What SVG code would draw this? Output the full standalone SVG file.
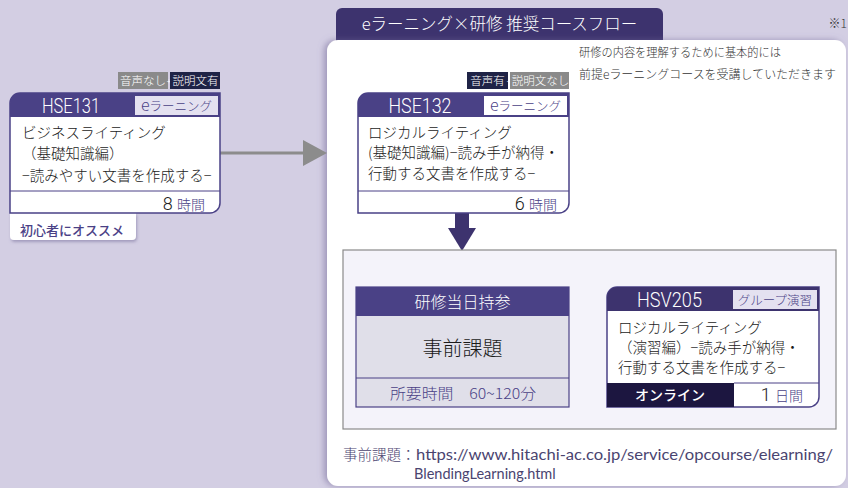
<svg xmlns="http://www.w3.org/2000/svg" width="848" height="488" viewBox="0 0 848 488">
<defs>
<style>
.jp{font-family:"Noto Sans CJK JP","Noto Sans",sans-serif;font-weight:300}
.body{font-size:14.5px;fill:#1a1a1a}
.hdr{font-size:20px;fill:#ffffff;font-family:Roboto,"Noto Sans",sans-serif;font-weight:300}
.tag{font-size:12.5px;fill:#4a4186}
.badge{font-size:11.5px;fill:#ffffff}
.plus{font-size:8px;fill:#ffffff}
.card{fill:#ffffff;stroke:#4a4186;stroke-width:1.5}
.sep{stroke:#4a4186;stroke-width:1}
.pur{fill:#4a4186}
.num{font-family:Roboto,sans-serif;font-weight:300;font-size:18px;fill:#1a1a1a}
.url{font-family:Lato,"Noto Sans",sans-serif;font-weight:400}
.gray-line{stroke:#8c8c8c;stroke-width:3}
.gray-head{fill:#8c8c8c}
</style>
<filter id="sh" x="-10%" y="-10%" width="120%" height="120%">
<feDropShadow dx="-3" dy="0" stdDeviation="3" flood-color="#6f6796" flood-opacity="0.55"/>
</filter>
<filter id="sh2" x="-10%" y="-20%" width="120%" height="150%">
<feDropShadow dx="1" dy="2" stdDeviation="1.5" flood-color="#6f6796" flood-opacity="0.5"/>
</filter>
</defs>
<rect width="848" height="488" fill="#d3cee3"/>

<!-- title tab and panel -->
<g id="title">
<rect x="336" y="8" width="327" height="40" rx="6" fill="#3d336e"/>
<text x="499.5" y="29.5" text-anchor="middle" class="jp" font-size="16.5" fill="#ffffff">eラーニング×研修 推奨コースフロー</text>
</g>
<text x="847" y="28" text-anchor="end" class="jp" font-size="12" fill="#333333">※1</text>
<g id="panel">
<rect x="327" y="40" width="519" height="446" rx="11" fill="#ffffff" filter="url(#sh)"/>
</g>
<g id="note" class="jp" font-size="12" fill="#333333">
<text x="579" y="57" textLength="202" lengthAdjust="spacingAndGlyphs">研修の内容を理解するために基本的には</text>
<text x="579" y="79" textLength="257" lengthAdjust="spacingAndGlyphs">前提eラーニングコースを受講していただきます</text>
</g>

<!-- connectors -->
<g id="connectors">
<line x1="220" y1="153" x2="305" y2="153" class="gray-line"/>
<polygon points="303,140 327,153 303,166" class="gray-head"/>
<rect x="455" y="213" width="14" height="17" fill="#3d336e"/>
<polygon points="448,228 476,228 462,251" fill="#3d336e"/>
<line x1="569" y1="348" x2="586" y2="348" class="gray-line"/>
<polygon points="583,335 607,348 583,361" class="gray-head"/>
</g>

<!-- HSE131 -->
<g id="hse131" class="jp">
<rect x="118" y="72" width="50" height="17" fill="#8a8a8a"/>
<text x="143" y="85" text-anchor="middle" class="badge">音声なし</text>
<text x="169" y="84" text-anchor="middle" class="plus">+</text>
<rect x="170" y="72" width="50" height="17" fill="#1f2346"/>
<text x="195.5" y="85" text-anchor="middle" class="badge">説明文有</text>
<g filter="url(#sh2)">
<path d="M10,213 H136 V236 A4,4 0 0 1 132,240 H14 A4,4 0 0 1 10,236 Z" fill="#ffffff"/>
</g>
<text x="20" y="235" font-size="13" font-weight="500" class="pur">初心者にオススメ</text>
<path d="M10,213 V103 A10,10 0 0 1 20,93 H220 V203 A10,10 0 0 1 210,213 Z" class="card"/>
<path d="M10,117 V103 A10,10 0 0 1 20,93 H220 V117 Z" class="pur"/>
<text x="71" y="113" text-anchor="middle" class="hdr" textLength="58" lengthAdjust="spacingAndGlyphs">HSE131</text>
<rect x="135" y="96" width="83" height="19" fill="#e4e1f0"/>
<text x="176.5" y="111" text-anchor="middle" class="tag"><tspan font-size="16">e</tspan>ラーニング</text>
<text x="22" y="137.5" class="body">ビジネスライティング</text>
<text x="22" y="159" class="body">（基礎知識編）</text>
<text x="22" y="180.5" class="body">−読みやすい文書を作成する−</text>
<line x1="10" y1="191" x2="220" y2="191" class="sep"/>
<text x="205" y="210" text-anchor="end"><tspan class="num">8 </tspan><tspan font-size="14" class="pur">時間</tspan></text>
</g>

<!-- HSE132 -->
<g id="hse132" class="jp">
<rect x="467" y="72" width="41" height="17" fill="#1f2346"/>
<text x="487.5" y="85" text-anchor="middle" class="badge">音声有</text>
<text x="509" y="84" text-anchor="middle" class="plus">+</text>
<rect x="510" y="72" width="59" height="17" fill="#8a8a8a"/>
<text x="540.5" y="85" text-anchor="middle" class="badge">説明文なし</text>
<path d="M358,213 V103 A10,10 0 0 1 368,93 H569 V203 A10,10 0 0 1 559,213 Z" class="card"/>
<path d="M358,117 V103 A10,10 0 0 1 368,93 H569 V117 Z" class="pur"/>
<text x="420" y="113" text-anchor="middle" class="hdr" textLength="63" lengthAdjust="spacingAndGlyphs">HSE132</text>
<rect x="484" y="96" width="83" height="19" fill="#ffffff"/>
<text x="525.5" y="111" text-anchor="middle" class="tag"><tspan font-size="16">e</tspan>ラーニング</text>
<text x="368" y="137.5" class="body">ロジカルライティング</text>
<text x="368" y="158" class="body">(基礎知識編)−読み手が納得・</text>
<text x="368" y="179" class="body">行動する文書を作成する−</text>
<line x1="358" y1="191" x2="569" y2="191" class="sep"/>
<text x="557" y="210" text-anchor="end"><tspan class="num">6 </tspan><tspan font-size="14" class="pur">時間</tspan></text>
</g>

<!-- inner box -->
<g id="inner">
<rect x="343" y="250" width="493" height="179" fill="#f4f3fa" stroke="#8a8a8a" stroke-width="1.2"/>
</g>

<!-- pre-assignment -->
<g id="jizen" class="jp">
<rect x="356" y="287" width="213" height="120" fill="#e0dfe9" stroke="#4a4186" stroke-width="1.2"/>
<rect x="356" y="287" width="213" height="29" class="pur"/>
<text x="462.5" y="307.5" text-anchor="middle" font-size="16" fill="#ffffff">研修当日持参</text>
<text x="462.5" y="355.5" text-anchor="middle" font-size="20" fill="#1a1a1a">事前課題</text>
<line x1="356" y1="378" x2="569" y2="378" class="sep"/>
<text x="463" y="399" text-anchor="middle" font-size="14.5" class="pur" textLength="146" lengthAdjust="spacingAndGlyphs">所要時間　60~120分</text>
</g>

<!-- HSV205 -->
<g id="hsv205" class="jp">
<path d="M607,407 V297 A10,10 0 0 1 617,287 H819 V397 A10,10 0 0 1 809,407 Z" class="card"/>
<path d="M607,311 V297 A10,10 0 0 1 617,287 H819 V311 Z" fill="#3d336e"/>
<text x="669.5" y="307" text-anchor="middle" class="hdr" textLength="65" lengthAdjust="spacingAndGlyphs">HSV205</text>
<rect x="733" y="290" width="84" height="19" fill="#e4e1f0"/>
<text x="775" y="304.5" text-anchor="middle" font-size="12.5" fill="#4a4186">グループ演習</text>
<text x="618" y="333" class="body">ロジカルライティング</text>
<text x="618" y="353" class="body">（演習編）−読み手が納得・</text>
<text x="618" y="372.5" class="body">行動する文書を作成する−</text>
<rect x="607" y="383" width="127" height="24" fill="#1c1640"/>
<text x="670" y="400" text-anchor="middle" font-size="14" font-weight="500" fill="#ffffff">オンライン</text>
<line x1="734" y1="383" x2="819" y2="383" class="sep"/>
<text x="803" y="401" text-anchor="end"><tspan class="num">1 </tspan><tspan font-size="14" class="pur">日間</tspan></text>
</g>

<!-- footnote -->
<g id="footnote" class="jp" font-size="14.5" fill="#4a4470">
<text x="343" y="460">事前課題：</text>
<text x="416" y="460" class="url" textLength="417" lengthAdjust="spacingAndGlyphs">https://www.hitachi-ac.co.jp/service/opcourse/elearning/</text>
<text x="414" y="479" class="url">BlendingLearning.html</text>
</g>
</svg>
